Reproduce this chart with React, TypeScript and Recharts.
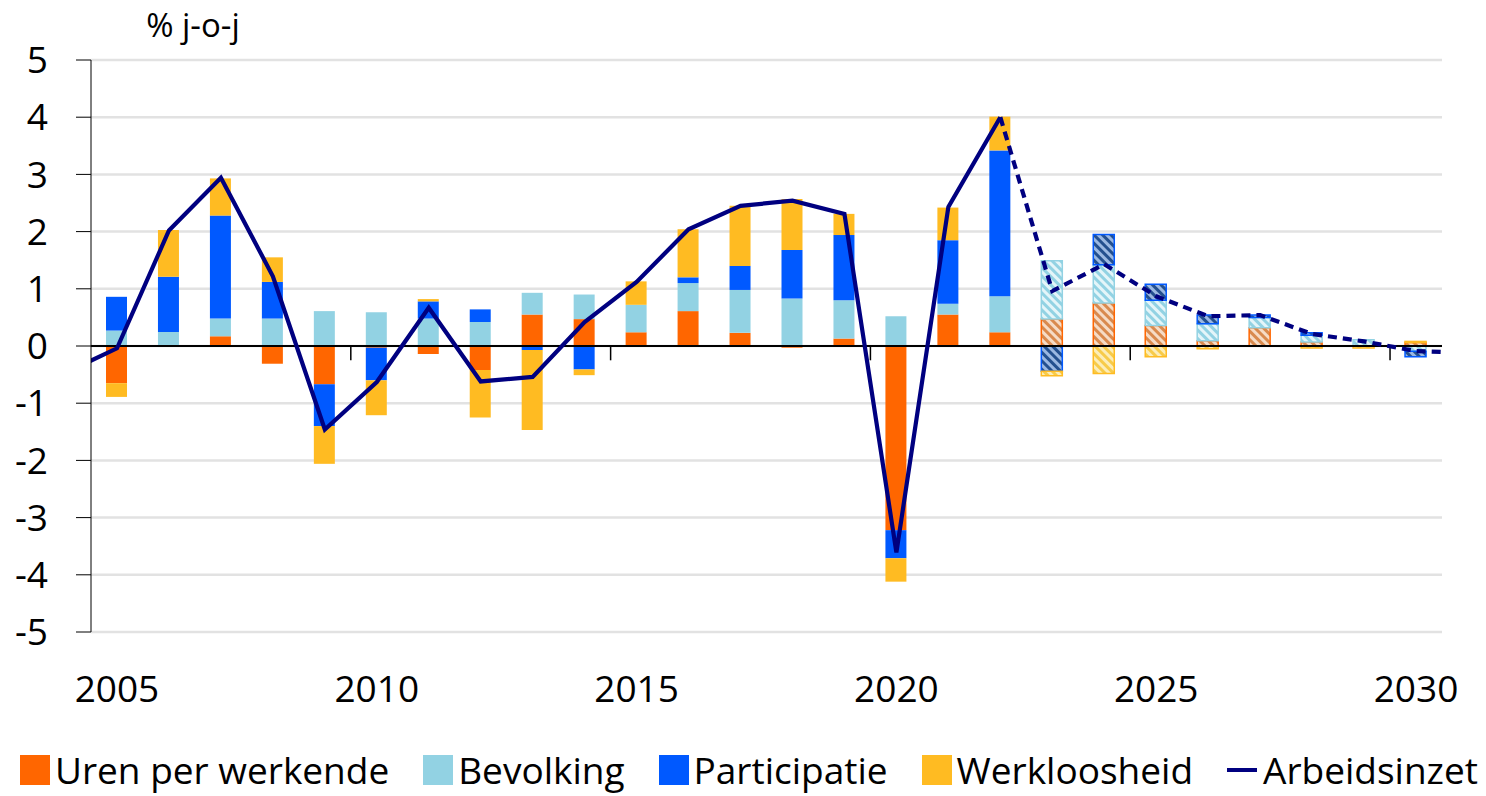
import React from "react"
import { ComposedChart, Bar, Line, XAxis, YAxis, CartesianGrid, ReferenceLine, Cell } from "recharts"

const years = [
  2004, 2005, 2006, 2007, 2008, 2009, 2010, 2011, 2012, 2013, 2014, 2015, 2016, 2017,
  2018, 2019, 2020, 2021, 2022, 2023, 2024, 2025, 2026, 2027, 2028, 2029, 2030, 2031,
]

// bijdragen per component, %-punt (null = buiten beeld)
const uren = [
  null, -0.65, 0, 0.17, -0.31, -0.67, -0.03, -0.14, -0.42, 0.55, 0.47, 0.24, 0.61, 0.23,
  -0.03, 0.13, -3.22, 0.55, 0.24, 0.47, 0.75, 0.36, 0.09, 0.32, 0.07, 0, 0.06, null,
]
const bevolking = [
  null, 0.27, 0.245, 0.31, 0.48, 0.61, 0.59, 0.48, 0.42, 0.38, 0.43, 0.48, 0.49, 0.75,
  0.83, 0.67, 0.52, 0.19, 0.63, 1.02, 0.67, 0.44, 0.3, 0.18, 0.12, 0.11, -0.09, null,
]
const participatie = [
  null, 0.59, 0.965, 1.8, 0.64, -0.73, -0.57, 0.3, 0.22, -0.07, -0.41, 0, 0.1, 0.42,
  0.85, 1.14, -0.49, 1.11, 2.55, -0.44, 0.53, 0.28, 0.15, 0.04, 0.04, 0, -0.1, null,
]
const werkloosheid = [
  null, -0.24, 0.82, 0.65, 0.43, -0.66, -0.61, 0.04, -0.83, -1.4, -0.1, 0.41, 0.84, 1.05,
  0.89, 0.37, -0.41, 0.57, 0.59, -0.08, -0.48, -0.19, -0.05, 0, -0.035, -0.035, 0.02, null,
]
const arbeidsinzet = [
  -0.47, -0.04, 2.02, 2.94, 1.22, -1.46, -0.63, 0.67, -0.62, -0.54, 0.42, 1.12, 2.04, 2.45,
  2.54, 2.31, -3.61, 2.43, 4.0, 0.96, 1.43, 0.87, 0.52, 0.54, 0.21, 0.08, -0.09, -0.12,
]

const firstProjection = 2023
const xTicks = [2005, 2010, 2015, 2020, 2025, 2030]
const yTicks = [-5, -4, -3, -2, -1, 0, 1, 2, 3, 4, 5]
const boundaryTicks = [2009.5, 2014.5, 2019.5, 2024.5, 2029.5]

const series = [
  { key: "uren", name: "Uren per werkende", color: "#FF6600", stripe: "#D98A4E", gap: "#F6DCC6" },
  { key: "bevolking", name: "Bevolking", color: "#92D2E3", stripe: "#92D2E3", gap: "#E4F5F9" },
  { key: "participatie", name: "Participatie", color: "#0059FF", stripe: "#24508F", gap: "#9BB8E2" },
  { key: "werkloosheid", name: "Werkloosheid", color: "#FFBB22", stripe: "#F7CB4A", gap: "#FCEDB8" },
]
const lineColor = "#000080"

const data = years.map((year, i) => ({
  year,
  uren: uren[i],
  bevolking: bevolking[i],
  participatie: participatie[i],
  werkloosheid: werkloosheid[i],
  realisatie: year < firstProjection ? arbeidsinzet[i] : null,
  raming: year >= firstProjection - 1 ? arbeidsinzet[i] : null,
}))

const font = "'Open Sans', 'Noto Sans', sans-serif"

function LegendRow() {
  return (
    <div
      style={{
        position: "absolute",
        left: 20,
        top: 748,
        display: "flex",
        gap: 34,
        whiteSpace: "nowrap",
        fontFamily: font,
        fontSize: 37,
        color: "#000",
        lineHeight: "44px",
      }}
    >
      {series.map((s) => (
        <div key={s.key} style={{ display: "flex", alignItems: "center", gap: 5 }}>
          <span style={{ width: 30, height: 30, background: s.color, display: "inline-block", flex: "none" }} />
          <span>{s.name}</span>
        </div>
      ))}
      <div style={{ display: "flex", alignItems: "center", gap: 6 }}>
        <span style={{ width: 30, height: 4, background: lineColor, display: "inline-block", flex: "none" }} />
        <span>Arbeidsinzet</span>
      </div>
    </div>
  )
}

export default function App() {
  return (
    <div style={{ position: "absolute", left: 0, top: 0, width: 1486, height: 796, background: "#fff", overflow: "hidden" }}>
      <ComposedChart
        width={1486}
        height={796}
        data={data}
        stackOffset="sign"
        margin={{ top: 60, right: 44, bottom: 84, left: 0 }}
      >
        <defs>
          {series.map((s) => (
            <pattern
              key={s.key}
              id={`hatch-${s.key}`}
              patternUnits="userSpaceOnUse"
              width={6}
              height={6}
              patternTransform="rotate(-45)"
            >
              <rect width={6} height={6} fill={s.gap} />
              <rect width={3} height={6} fill={s.stripe} />
            </pattern>
          ))}
        </defs>
        <CartesianGrid vertical={false} stroke="#E2E2E2" strokeWidth={2.5} />
        <XAxis
          dataKey="year"
          type="number"
          domain={[2004.5, 2030.5]}
          ticks={xTicks}
          allowDataOverflow
          axisLine={false}
          tickLine={false}
          tickSize={6}
          tickMargin={38}
          height={80}
          tick={{ fontSize: 37, fill: "#000", fontFamily: font }}
        />
        <YAxis
          domain={[-5, 5]}
          ticks={yTicks}
          allowDataOverflow
          width={91}
          tickSize={15}
          tickMargin={28}
          axisLine={{ stroke: "#000", strokeWidth: 1 }}
          tickLine={{ stroke: "#000", strokeWidth: 1 }}
          tick={{ fontSize: 37, fill: "#000", fontFamily: font }}
        />
        {series.map((s) => (
          <Bar key={s.key} dataKey={s.key} name={s.name} stackId="a" barSize={21} fill={s.color} isAnimationActive={false}>
            {data.map((d) => (
              <Cell
                key={d.year}
                fill={d.year >= firstProjection ? `url(#hatch-${s.key})` : s.color}
                stroke={d.year >= firstProjection ? s.color : "none"}
                strokeWidth={d.year >= firstProjection ? 1.5 : 0}
              />
            ))}
          </Bar>
        ))}
        <ReferenceLine y={0} stroke="#000" strokeWidth={2} />
        {boundaryTicks.map((x) => (
          <ReferenceLine
            key={x}
            segment={[
              { x, y: 0 },
              { x, y: -0.25 },
            ]}
            stroke="#000"
            strokeWidth={1.5}
          />
        ))}
        <Line
          dataKey="realisatie"
          name="Arbeidsinzet"
          stroke={lineColor}
          strokeWidth={4.2}
          dot={false}
          connectNulls={false}
          isAnimationActive={false}
        />
        <Line
          dataKey="raming"
          stroke={lineColor}
          strokeWidth={4.2}
          strokeDasharray="9 6"
          dot={false}
          connectNulls={false}
          isAnimationActive={false}
        />
        <text x={193} y={37} textAnchor="middle" fontSize={33} fontFamily={font} fill="#000">
          % j-o-j
        </text>
      </ComposedChart>
      <LegendRow />
    </div>
  )
}
